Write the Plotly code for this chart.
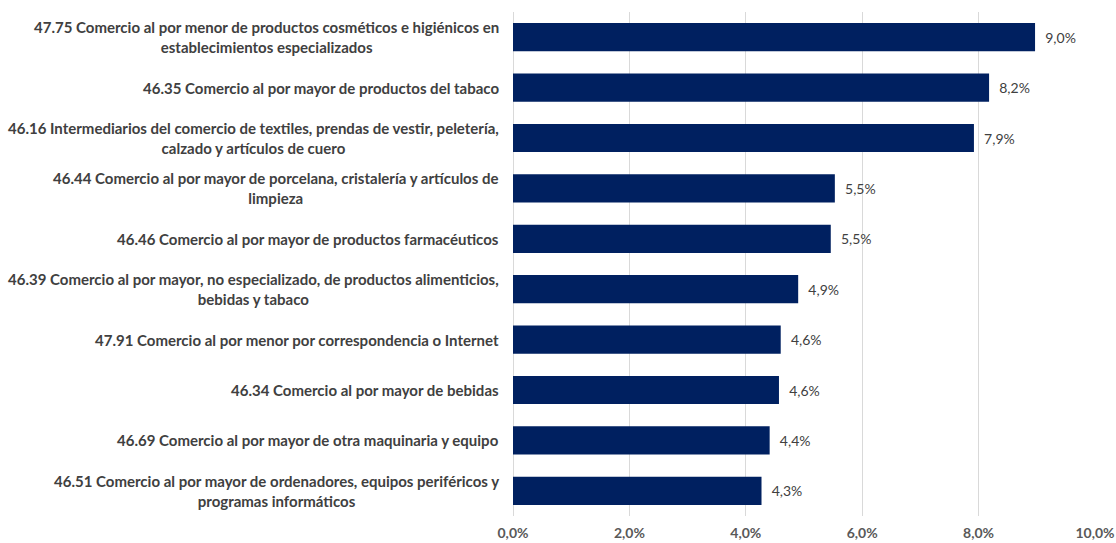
import plotly.graph_objects as go

categories = [
    "47.75 Comercio al por menor de productos cosméticos e higiénicos en<br>establecimientos especializados",
    "46.35 Comercio al por mayor de productos del tabaco",
    "46.16 Intermediarios del comercio de textiles, prendas de vestir, peletería,<br>calzado y artículos de cuero",
    "46.44 Comercio al por mayor de porcelana, cristalería y artículos de<br>limpieza",
    "46.46 Comercio al por mayor de productos farmacéuticos",
    "46.39 Comercio al por mayor, no especializado, de productos alimenticios,<br>bebidas y tabaco",
    "47.91 Comercio al por menor por correspondencia o Internet",
    "46.34 Comercio al por mayor de bebidas",
    "46.69 Comercio al por mayor de otra maquinaria y equipo",
    "46.51 Comercio al por mayor de ordenadores, equipos periféricos y<br>programas informáticos",
]
values = [8.97, 8.18, 7.92, 5.53, 5.46, 4.90, 4.60, 4.57, 4.41, 4.27]
tick_values = [0, 2, 4, 6, 8, 10]
tick_labels = ["0,0%", "2,0%", "4,0%", "6,0%", "8,0%", "10,0%"]

FONT = "Lato"
fig = go.Figure()
fig.add_trace(go.Bar(
    x=values,
    y=categories,
    orientation="h",
    marker=dict(color="#002060", line=dict(width=0)),
    texttemplate="\u00a0\u00a0%{x:.1f}%",
    textposition="outside",
    textfont=dict(family=FONT, size=14, color="#404040"),
    cliponaxis=False,
    width=0.56,
    hoverinfo="skip",
))

for c in categories:
    fig.add_annotation(
        x=0, xref="paper", y=c, yref="y",
        text="<b>" + c + "</b>",
        xanchor="right", yanchor="middle", align="center",
        xshift=-12, showarrow=False,
        font=dict(family=FONT, size=15, color="#404040"),
    )

fig.update_layout(
    width=1116, height=543,
    margin=dict(l=513, r=21, t=12, b=27, autoexpand=False),
    plot_bgcolor="white", paper_bgcolor="white",
    separators=",.",
    showlegend=False,
    font=dict(family=FONT, size=13, color="#595959"),
    xaxis=dict(
        range=[0, 10], tickvals=tick_values, ticktext=tick_labels,
        showgrid=True, gridcolor="#d9d9d9", gridwidth=1,
        zeroline=True, zerolinecolor="#d9d9d9", zerolinewidth=1,
        showline=False, ticks="", automargin=False, ticklabelstandoff=7,
        tickfont=dict(family=FONT, size=14, color="#595959", weight="bold"),
        fixedrange=True,
    ),
    yaxis=dict(
        autorange="reversed", showticklabels=False, showgrid=False,
        zeroline=False, showline=False, ticks="", fixedrange=True,
        automargin=False,
    ),
)

fig.write_html(
    "out.html",
    config={"displayModeBar": False},
    post_script="document.body.style.margin='0';document.body.style.overflow='hidden';",
)
